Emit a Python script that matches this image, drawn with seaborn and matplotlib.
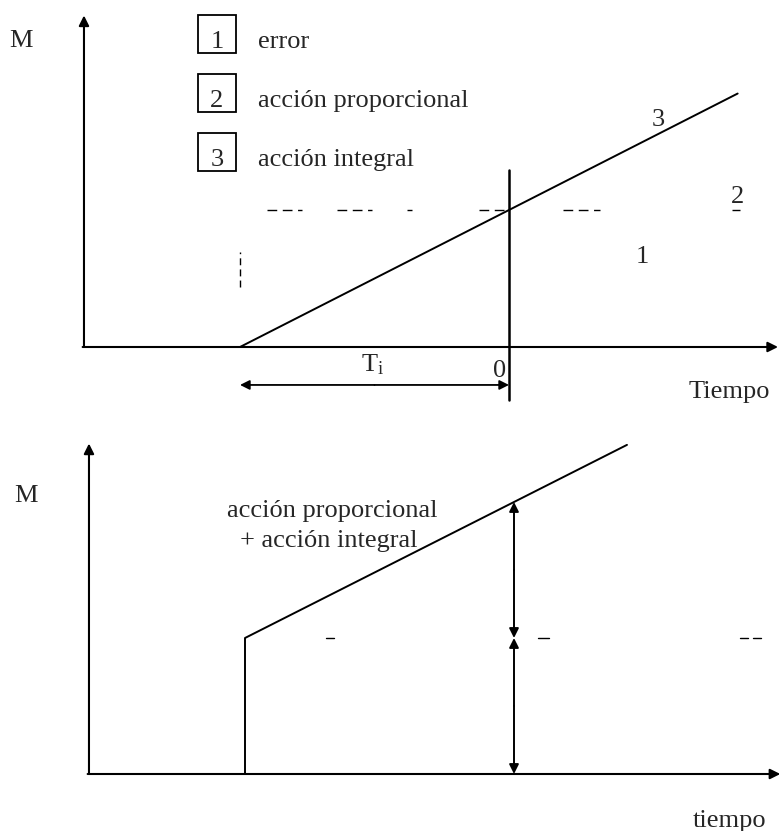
import numpy as np
import pandas as pd
import matplotlib
matplotlib.use("Agg")
import matplotlib.pyplot as plt
import seaborn as sns
from matplotlib.patches import Rectangle

sns.set_style("white")
plt.rcParams['font.family'] = ['Liberation Serif', 'DejaVu Serif']
plt.rcParams['mathtext.fontset'] = 'stix'

# tiempo en unidades de Ti, salida M en unidades del error
ti = 1.0
error_level = 1.0

legend_numbers = ["1", "2", "3"]
legend_labels = ["error", "acción proporcional", "acción integral"]

# arriba: acción integral sola (rampa que arranca en -Ti)
top_ramp_t = [-1.0, 0.85]
top_ramp_m = [0.0, 1.85]
# trozos visibles de la línea de trazos del error (escaneo)
top_level_dashes = [(-0.90, -0.77), (-0.64, -0.51), (-0.38, -0.36),
                    (-0.11, 0.0), (0.20, 0.34), (0.83, 0.86)]
top_step_mark = (0.44, 0.69)

# abajo: acción proporcional + integral
bottom_t = [0.0, 0.0, 1.42]
bottom_m = [0.0, 1.0, 2.42]
bottom_level_dashes = [(0.30, 0.33), (1.09, 1.13), (1.84, 1.87), (1.89, 1.92)]

FONT = 19
W, H = 782, 831


def add_axes_px(fig, top_px, bottom_px):
    return fig.add_axes([0, (H - bottom_px) / H, 1, (bottom_px - top_px) / H])


def arrow(ax, start, end, lw=1.5, style='-|>', ms=15):
    ax.annotate('', xy=end, xytext=start,
                arrowprops=dict(arrowstyle=style, color='black', lw=lw,
                                shrinkA=0, shrinkB=0, mutation_scale=ms))


fig = plt.figure(figsize=(W / 100, H / 100), dpi=100)

# ---------------- panel superior ----------------
ax1 = add_axes_px(fig, 0, 420)
ax1.set_xlim(-509 / 269, (W - 509) / 269)
ax1.set_ylim(-73 / 137, 347 / 137)
ax1.axis('off')

arrow(ax1, (-1.585, 0), (1.0, 0))
arrow(ax1, (-1.58, 0), (-1.58, 2.42))

sns.lineplot(x=top_ramp_t, y=top_ramp_m, ax=ax1, color='black', lw=1.4,
             estimator=None, sort=False)
for a, b in top_level_dashes:
    ax1.plot([a, b], [error_level, error_level], color='black', lw=1.0,
             ls=(0, (7, 4)))
ax1.plot([-ti, -ti], top_step_mark, color='black', lw=1.0, ls=(0, (5, 3)))
ax1.plot([0, 0], [-0.39, 1.29], color='black', lw=1.8)
arrow(ax1, (-ti / 2, -0.277), (-ti, -0.277), lw=1.3, ms=14)
arrow(ax1, (-ti / 2, -0.277), (0, -0.277), lw=1.3, ms=14)

ax1.text(-1.857, 2.19, "M", fontsize=FONT, ha='left', va='baseline')
ax1.text(-0.505, -0.18, r"T$_\mathregular{i}$", fontsize=FONT, ha='center',
         va='baseline')
ax1.text(-0.035, -0.22, "0", fontsize=FONT, ha='center', va='baseline')
ax1.text(0.82, -0.37, "Tiempo", fontsize=FONT, ha='center', va='baseline')
ax1.text(0.555, 1.61, "3", fontsize=FONT, ha='center', va='baseline')
ax1.text(0.848, 1.05, "2", fontsize=FONT, ha='center', va='baseline')
ax1.text(0.494, 0.61, "1", fontsize=FONT, ha='center', va='baseline')

box_w, box_h = 38 / 269, 38 / 137
for i, (num, lab) in enumerate(zip(legend_numbers, legend_labels)):
    yc = 2.285 - i * 0.431
    ax1.add_patch(Rectangle((-1.086 - box_w / 2, yc - box_h / 2), box_w, box_h,
                            fill=False, ec='black', lw=1.3))
    ax1.text(-1.086, yc - 0.1, num, fontsize=FONT, ha='center', va='baseline')
    ax1.text(-0.933, yc - 0.1, lab, fontsize=FONT, ha='left', va='baseline')

# ---------------- panel inferior ----------------
ax2 = add_axes_px(fig, 420, H)
ax2.set_xlim(-245 / 269, (W - 245) / 269)
ax2.set_ylim(-57 / 136, 354 / 136)
ax2.axis('off')

arrow(ax2, (-0.585, 0), (1.99, 0))
arrow(ax2, (-0.58, 0), (-0.58, 2.43))

sns.lineplot(x=bottom_t, y=bottom_m, ax=ax2, color='black', lw=1.4,
             estimator=None, sort=False)
for a, b in bottom_level_dashes:
    ax2.plot([a, b], [error_level, error_level], color='black', lw=1.0)

# a t = Ti la salida duplica la acción proporcional
arrow(ax2, (ti, 1.5), (ti, 2.0), lw=1.4, ms=14)
arrow(ax2, (ti, 1.5), (ti, 1.0), lw=1.4, ms=14)
arrow(ax2, (ti, 0.5), (ti, 1.0), lw=1.4, ms=14)
arrow(ax2, (ti, 0.5), (ti, 0.0), lw=1.4, ms=14)

ax2.text(-0.857, 2.0, "M", fontsize=FONT, ha='left', va='baseline')
ax2.text(0.325, 1.89, "acción proporcional", fontsize=FONT, ha='center',
         va='baseline')
ax2.text(0.31, 1.67, "+ acción integral", fontsize=FONT, ha='center',
         va='baseline')
ax2.text(1.80, -0.39, "tiempo", fontsize=FONT, ha='center', va='baseline')

fig.savefig("out.png", dpi=100, facecolor='white')
